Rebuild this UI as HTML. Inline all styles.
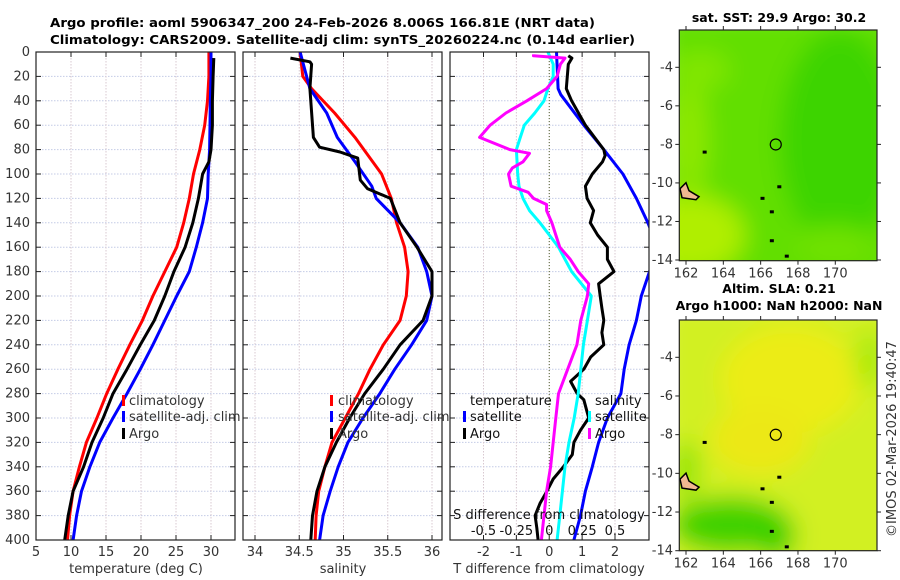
<!DOCTYPE html>
<html><head><meta charset="utf-8">
<style>
html,body{margin:0;padding:0;background:#fff;}
svg{display:block;font-family:"DejaVu Sans","Liberation Sans",sans-serif;}
</style></head>
<body>
<svg id="fig" width="900" height="580" viewBox="0 0 900 580" xmlns="http://www.w3.org/2000/svg">
<rect width="900" height="580" fill="#fff"/>
<text x="50" y="27" font-size="12.5" font-weight="bold" textLength="545" lengthAdjust="spacingAndGlyphs">Argo profile: aoml 5906347_200 24-Feb-2026 8.006S 166.81E (NRT data)</text>
<text x="50" y="44" font-size="12.5" font-weight="bold" textLength="585" lengthAdjust="spacingAndGlyphs">Climatology: CARS2009. Satellite-adj clim: synTS_20260224.nc (0.14d earlier)</text>
<g id="panels"></g>
<g id="maps"></g>
<text transform="translate(896,439) rotate(-90)" text-anchor="middle" font-size="13" fill="#333">©IMOS 02-Mar-2026 19:40:47</text>
</svg>
<script>
// ---------- data ----------
const tDepthClim = [0,20,40,60,80,100,120,140,160,180,200,220,240,260,280,300,320,340,360,380,400];
const tempClim   = [29.7,29.7,29.5,29.1,28.4,27.5,26.9,26.1,25.1,23.4,21.7,20.2,18.4,16.7,15.1,13.7,12.2,11.2,10.3,9.8,9.5];
const tempSat    = [30.0,30.0,29.9,29.85,29.8,29.6,29.5,28.8,27.9,26.9,25.1,23.4,21.7,19.9,18.0,16.0,14.1,12.7,11.5,10.8,10.3];
const argoDepthT = [5,20,40,60,80,90,100,110,120,140,160,180,200,220,240,260,280,300,320,340,360,380,400];
const tempArgo   = [30.4,30.3,30.2,30.2,30.0,29.7,28.8,28.5,28.2,27.4,26.3,24.7,23.4,21.9,19.9,18.0,16.0,14.6,13.0,11.8,10.3,9.6,9.1];

const sDepthClim = [0,20,30,50,70,90,100,120,140,160,180,200,220,240,260,280,300,320,340,360,380,400];
const salClim    = [34.51,34.54,34.64,34.90,35.13,35.33,35.43,35.54,35.60,35.69,35.73,35.71,35.64,35.45,35.30,35.17,35.02,34.87,34.79,34.72,34.69,34.68];
const sDepthSat  = [0,30,50,70,90,110,120,140,160,180,200,220,240,260,280,300,320,340,360,380,400];
const salSat     = [34.51,34.62,34.81,34.93,35.13,35.32,35.37,35.64,35.84,35.94,36.0,35.94,35.77,35.58,35.41,35.22,35.05,34.94,34.85,34.77,34.73];
const sDepthArgo = [5,8,10,30,70,78,82,87,105,112,120,140,160,180,200,220,240,260,280,300,320,340,360,380,400];
const salArgo    = [34.40,34.62,34.64,34.62,34.66,34.73,34.96,35.16,35.19,35.27,35.53,35.64,35.83,36.0,36.0,35.9,35.64,35.45,35.24,35.07,34.92,34.79,34.70,34.65,34.63];

const dDepthSatT = [0,30,35,60,80,100,120,140,160,180,200,220,240,260,280,300,320,340,360,380,400];
const tDiffSat   = [0.22,0.27,0.35,1.05,1.66,2.24,2.65,3.0,3.3,3.05,2.8,2.65,2.43,2.28,2.18,1.77,1.5,1.31,1.1,0.95,0.75];
const dDepthArgoT= [3,5,10,20,30,40,60,80,85,90,100,110,120,130,140,150,160,170,180,190,200,210,220,230,240,250,260,270,280,285,300,310,320,330,340,350,360,370,380,390,400];
const tDiffArgo  = [0.58,0.69,0.58,0.55,0.52,0.68,1.1,1.66,1.7,1.62,1.31,1.1,1.15,1.35,1.25,1.47,1.77,1.77,1.97,1.5,1.55,1.6,1.66,1.6,1.66,1.26,1.05,0.65,0.85,1.05,1.2,0.95,0.75,0.7,0.43,0.12,-0.07,-0.28,-0.43,-0.38,-0.34];
const dDepthArgoS= [2,3,5,10,20,30,40,50,60,70,80,83,90,95,100,110,115,120,125,130,140,150,160,170,180,190,200,220,240,260,280,300,320,340,360,380,400];
const sDiffArgo  = [-0.12,-0.12,0.12,0.085,0.06,-0.02,-0.17,-0.33,-0.45,-0.53,-0.3,-0.15,-0.2,-0.28,-0.31,-0.29,-0.16,-0.12,-0.02,-0.02,0.02,0.05,0.08,0.16,0.22,0.3,0.29,0.24,0.21,0.14,0.07,0.05,0.03,0.01,-0.02,-0.04,-0.06];
const dDepthSatS = [0,10,20,30,40,50,60,70,80,100,110,120,130,140,150,160,180,200,220,240,260,280,300,320,340,360,380,400];
const sDiffSat   = [-0.01,0.03,0.03,-0.01,-0.04,-0.11,-0.19,-0.22,-0.25,-0.24,-0.23,-0.2,-0.15,-0.07,0.0,0.07,0.17,0.32,0.29,0.26,0.24,0.22,0.19,0.15,0.12,0.10,0.08,0.06];

const depthTicks = [0,20,40,60,80,100,120,140,160,180,200,220,240,260,280,300,320,340,360,380,400];
const tempTicks  = [5,10,15,20,25,30];
const salTicks   = [34,34.5,35,35.5,36];
const salTickLabels = ["34","34.5","35","35.5","36"];
const tDiffTicks = [-2,-1,0,1,2];
const sDiffTicks = [-0.5,-0.25,0,0.25,0.5];
const sDiffTickLabels = ["-0.5","-0.25","0","0.25","0.5"];
const latTicks = [-4,-6,-8,-10,-12,-14];
const lonTicks = [162,164,166,168,170];
const argoLon = 166.81, argoLat = -8.006;

// ---------- helpers ----------
const NS = "http://www.w3.org/2000/svg";
function mk(tag, attrs, parent){const e=document.createElementNS(NS,tag);for(const k in attrs)e.setAttribute(k,attrs[k]);if(parent)parent.appendChild(e);return e;}
const panelsG = document.getElementById('panels');
const mapsG = document.getElementById('maps');
const TOP=52, BOT=540;
const yD = d => TOP + (d/400)*(BOT-TOP);
function linScale(d0,d1,r0,r1){return v => r0 + (v-d0)/(d1-d0)*(r1-r0);}

function frame(x0,x1,g){
  depthTicks.forEach(d=>{
    const l=mk('line',{x1:x0,x2:x1,y1:yD(d),y2:yD(d),stroke:'#c4cbe6','stroke-width':1,'stroke-dasharray':'1.5,1.5'},g);
    
    
    const t1=mk('line',{x1:x0,x2:x0+5,y1:yD(d),y2:yD(d),stroke:'#222'},g);
    
    
    const t2=mk('line',{x1:x1-5,x2:x1,y1:yD(d),y2:yD(d),stroke:'#222'},g);
    
    
  });
}
function vgrid(x,g){
  const l=mk('line',{x1:x,x2:x,y1:TOP,y2:BOT,stroke:'#d8c8d0','stroke-width':1,'stroke-dasharray':'1.5,1.5'},g);
  
  
  const t=mk('line',{x1:x,x2:x,y1:TOP,y2:TOP+5,stroke:'#222'},g);
  
  
  const t2=mk('line',{x1:x,x2:x,y1:BOT-5,y2:BOT,stroke:'#222'},g);
  
  
}
function border(x0,x1,g,name){
  const r=mk('rect',{x:x0,y:TOP,width:x1-x0,height:BOT-TOP,fill:'none',stroke:'#222','stroke-width':1.2},g);
  
  
}
function series(xs,ds,sx,color,g,name,w){
  const pts=xs.map((v,i)=>sx(v).toFixed(1)+','+yD(ds[i]).toFixed(1)).join(' ');
  const p=mk('polyline',{points:pts,fill:'none',stroke:color,'stroke-width':w||3,'stroke-linejoin':'round'},g);
  
  
}
function txt(x,y,s,g,name,opts){
  const t=mk('text',Object.assign({x:x,y:y,'font-size':13,fill:'#333'},opts||{}),g);
  t.textContent=s;
  
  
  return t;
}
function legendMark(x,y,color,g,name){
  const r=mk('rect',{x:x,y:y-10,width:3,height:11,fill:color},g);
  
  
}

// ---------- panel 1: temperature ----------
(function(){
  const g=mk('g',{},panelsG);
  
  
  const x0=36,x1=235;
  const sx=linScale(5,30,36,211);
  frame(x0,x1,g);
  tempTicks.forEach(v=>{vgrid(sx(v),g);txt(sx(v),556,String(v),g,'x-tick-label',{'text-anchor':'middle'});});
  depthTicks.forEach(d=>txt(30,yD(d)+4,String(d),g,'y-tick-label',{'text-anchor':'end'}));
  series(tempClim,tDepthClim,sx,'#ff0000',g,'temp-climatology-line');
  series(tempSat,tDepthClim,sx,'#0000ff',g,'temp-satellite-line');
  series(tempArgo,argoDepthT,sx,'#000000',g,'temp-argo-line');
  border(x0,x1,g,'temperature-axes');
  txt(136,573,'temperature (deg C)',g,'x-axis-title',{'text-anchor':'middle'});
  legendMark(122,405,'#ff0000',g,'legend-climatology-mark'); txt(129,405,'climatology',g,'legend-climatology');
  legendMark(122,421,'#0000ff',g,'legend-satellite-mark'); txt(129,421,'satellite-adj. clim',g,'legend-satellite');
  legendMark(122,438,'#000000',g,'legend-argo-mark'); txt(129,438,'Argo',g,'legend-argo');
})();

// ---------- panel 2: salinity ----------
(function(){
  const g=mk('g',{},panelsG);
  
  
  const x0=243,x1=442;
  const sx=linScale(34,36,255,432);
  frame(x0,x1,g);
  salTicks.forEach((v,i)=>{vgrid(sx(v),g);txt(sx(v),556,salTickLabels[i],g,'x-tick-label',{'text-anchor':'middle'});});
  series(salClim,sDepthClim,sx,'#ff0000',g,'sal-climatology-line');
  series(salSat,sDepthSat,sx,'#0000ff',g,'sal-satellite-line');
  series(salArgo,sDepthArgo,sx,'#000000',g,'sal-argo-line');
  border(x0,x1,g,'salinity-axes');
  txt(343,573,'salinity',g,'x-axis-title',{'text-anchor':'middle'});
  legendMark(330,405,'#ff0000',g,'legend-climatology-mark'); txt(338,405,'climatology',g,'legend-climatology');
  legendMark(330,421,'#0000ff',g,'legend-satellite-mark'); txt(338,421,'satellite-adj. clim',g,'legend-satellite');
  legendMark(330,438,'#000000',g,'legend-argo-mark'); txt(338,438,'Argo',g,'legend-argo');
})();

// ---------- panel 3: differences ----------
(function(){
  const g=mk('g',{},panelsG);
  
  
  const x0=450,x1=649;
  const sxT=linScale(-2,2,483.5,615);
  const sxS=linScale(-0.5,0.5,483.5,615);
  const clip=mk('clipPath',{id:'p3clip'},g);
  mk('rect',{x:x0,y:TOP,width:x1-x0,height:BOT-TOP},clip);
  frame(x0,x1,g);
  tDiffTicks.forEach(v=>{vgrid(sxT(v),g);txt(sxT(v),556,String(v),g,'x-tick-label',{'text-anchor':'middle'});});
  const z=mk('line',{x1:sxT(0),x2:sxT(0),y1:TOP,y2:BOT,stroke:'#556633','stroke-width':1,'stroke-dasharray':'1,2'},g);
  
  
  const sg=mk('g',{'clip-path':'url(#p3clip)'},g);
  
  
  series(tDiffSat,dDepthSatT,sxT,'#0000ff',sg,'tdiff-satellite-line');
  series(tDiffArgo,dDepthArgoT,sxT,'#000000',sg,'tdiff-argo-line');
  series(sDiffSat,dDepthSatS,sxS,'#00ffff',sg,'sdiff-satellite-line');
  series(sDiffArgo,dDepthArgoS,sxS,'#ff00ff',sg,'sdiff-argo-line');
  border(x0,x1,g,'difference-axes');
  txt(549,573,'T difference from climatology',g,'x-axis-title',{'text-anchor':'middle'});
  txt(549,519,'S difference from climatology',g,'s-axis-title',{'text-anchor':'middle','fill':'#111'});
  sDiffTicks.forEach((v,i)=>txt(sxS(v),535,sDiffTickLabels[i],g,'s-tick-label',{'text-anchor':'middle','fill':'#111'}));
  txt(470,405,'temperature',g,'legend-temperature-heading',{'fill':'#111'});
  legendMark(463,421,'#0000ff',g,'legend-t-satellite-mark'); txt(470,421,'satellite',g,'legend-t-satellite',{'fill':'#111'});
  legendMark(463,438,'#000000',g,'legend-t-argo-mark'); txt(470,438,'Argo',g,'legend-t-argo',{'fill':'#111'});
  txt(595,405,'salinity',g,'legend-salinity-heading',{'fill':'#111'});
  legendMark(588,421,'#00ffff',g,'legend-s-satellite-mark'); txt(595,421,'satellite',g,'legend-s-satellite',{'fill':'#111'});
  legendMark(588,438,'#ff00ff',g,'legend-s-argo-mark'); txt(595,438,'Argo',g,'legend-s-argo',{'fill':'#111'});
})();

// ---------- maps ----------
function drawMap(top,bot,latRef,pxLat,kind,titles){
  const g=mk('g',{},mapsG);
  
  
  const x0=679.3,x1=877;
  const lonX=linScale(162,170,686,835.3);
  const latY=v=>latRef+(-4-v)*pxLat;
  const cid='clip-'+kind;
  const cp=mk('clipPath',{id:cid},g); mk('rect',{x:x0,y:top,width:x1-x0,height:bot-top},cp);
  const fid='blur-'+kind;
  const f=mk('filter',{id:fid,x:'-50%',y:'-50%',width:'200%',height:'200%'},g); mk('feGaussianBlur',{stdDeviation:12},f);
  const bg=mk('g',{'clip-path':'url(#'+cid+')'},g);
  
  
  const bl=mk('g',{filter:'url(#'+fid+')'},bg);
  if(kind==='sst'){
    mk('rect',{x:x0-20,y:top-20,width:240,height:280,fill:'#62df00'},bl);
    mk('ellipse',{cx:840,cy:top+110,rx:60,ry:110,fill:'#3cd400'},bl);
    mk('ellipse',{cx:690,cy:top+205,rx:55,ry:40,fill:'#b0ee00'},bl);
    mk('ellipse',{cx:690,cy:top+110,rx:18,ry:60,fill:'#8ee800'},bl);
    mk('ellipse',{cx:700,cy:top+40,rx:30,ry:20,fill:'#80e600'},bl);
    mk('ellipse',{cx:835,cy:top+215,rx:40,ry:20,fill:'#70e200'},bl);
  } else {
    mk('rect',{x:x0-20,y:top-20,width:240,height:280,fill:'#d2f020'},bl);
    mk('ellipse',{cx:790,cy:top+60,rx:70,ry:55,fill:'#ecec18'},bl);
    mk('ellipse',{cx:760,cy:top+120,rx:50,ry:35,fill:'#ece818'},bl);
    mk('ellipse',{cx:730,cy:top+205,rx:60,ry:28,fill:'#40d200'},bl);
    mk('ellipse',{cx:775,cy:top+215,rx:20,ry:25,fill:'#38d000'},bl);
    mk('ellipse',{cx:686,cy:top+150,rx:12,ry:30,fill:'#88e200'},bl);
    mk('ellipse',{cx:870,cy:top+40,rx:15,ry:30,fill:'#a8ea10'},bl);
  }
  const land=mk('path',{d:'M680,'+(latY(-10.3))+' l6,-6 l3,8 l10,6 l-3,3 l-14,-2 z',fill:'#f0b890',stroke:'#000','stroke-width':1.5},bg);
  
  
  [[166.1,-10.8],[166.6,-11.5],[167.4,-13.8],[166.6,-13.0],[163,-8.4],[167,-10.2]].forEach(p=>{
    const r=mk('rect',{x:lonX(p[0])-2,y:latY(p[1])-1.5,width:4,height:3,fill:'#000'},bg);
    
    
  });
  const c=mk('circle',{cx:lonX(argoLon),cy:latY(argoLat),r:5.5,fill:'none',stroke:'#000','stroke-width':1.2},g);
  
  
  const b=mk('rect',{x:x0,y:top,width:x1-x0,height:bot-top,fill:'none',stroke:'#222','stroke-width':1.2},g);
  
  
  latTicks.forEach(v=>{
    const y=latY(v);
    const t=mk('line',{x1:x0-4,x2:x0,y1:y,y2:y,stroke:'#222'},g);
    
    
    const t2=mk('line',{x1:x1,x2:x1+4,y1:y,y2:y,stroke:'#222'},g);
    
    
    txt(673,y+4,String(v),g,'lat-tick-label',{'text-anchor':'end'});
  });
  lonTicks.forEach(v=>{
    const x=lonX(v);
    const t=mk('line',{x1:x,x2:x,y1:bot,y2:bot+4,stroke:'#222'},g);
    
    
    const t2=mk('line',{x1:x,x2:x,y1:top-4,y2:top,stroke:'#222'},g);
    
    
    txt(x,bot+17,String(v),g,'lon-tick-label',{'text-anchor':'middle'});
  });
  titles.forEach(tt=>txt(779,tt[1],tt[0],g,'map-title',{'text-anchor':'middle','font-weight':'bold','fill':'#000','font-size':12.5}));
}
drawMap(30,260.7,67.3,19.27,'sst',[['sat. SST: 29.9 Argo: 30.2',22]]);
drawMap(320,550.7,357.3,19.34,'sla',[['Altim. SLA: 0.21',293],['Argo h1000: NaN h2000: NaN',310]]);
</script>
</body></html>
